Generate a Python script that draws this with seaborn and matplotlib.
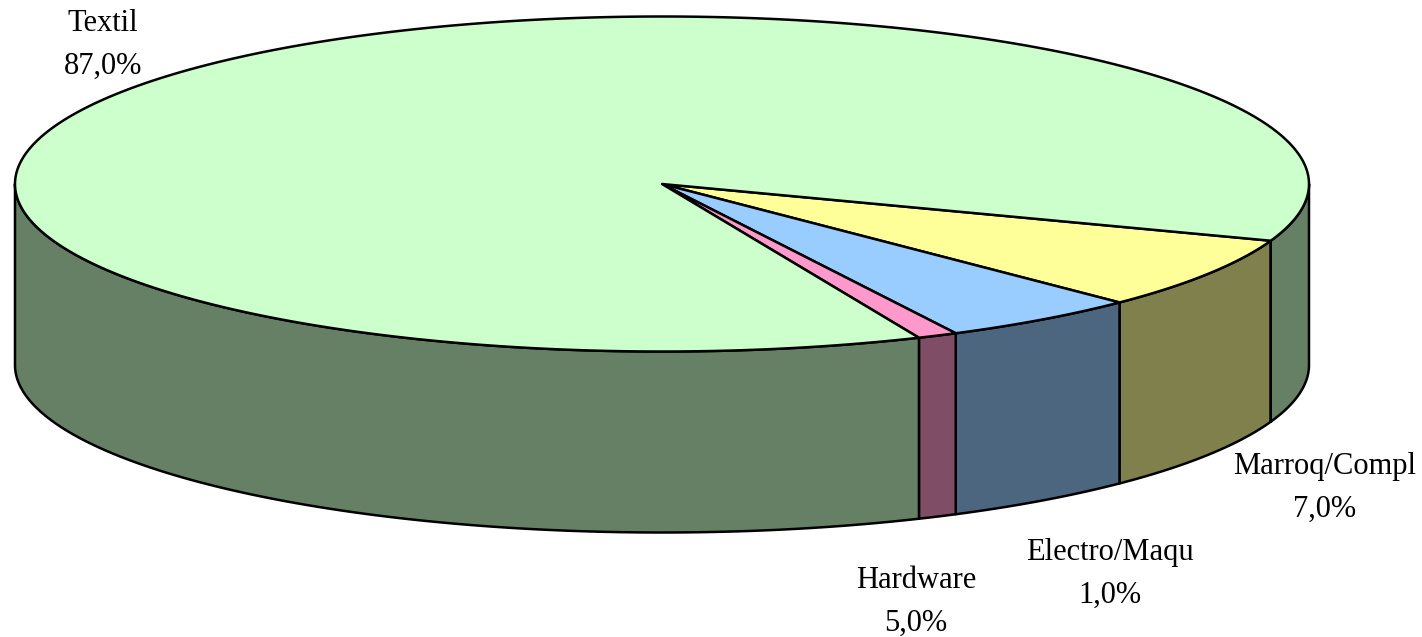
import numpy as np
import matplotlib
matplotlib.use("Agg")
import matplotlib.pyplot as plt
import seaborn as sns

# Data
slice_names = ["Marroq/Compl", "Hardware", "Electro/Maqu", "Textil"]
slice_values = [7.0, 5.0, 1.0, 87.0]          # drawn clockwise on screen
slice_colors = ["#FFFF99", "#99CCFF", "#FF99CC", "#CCFFCC"]
side_colors = ["#80804D", "#4D6680", "#804D66", "#668066"]
label_names = ["Textil", "Marroq/Compl", "Electro/Maqu", "Hardware"]
label_values = [87.0, 7.0, 1.0, 5.0]

# Layout (pixels)
W, H = 1422, 637
CX, CY, RX, RY, DEPTH = 662, 184, 647, 167.5, 181
START = 19.8  # parametric angle, measured clockwise on screen from +x
LABEL_POS = {"Textil": (103, 45), "Marroq/Compl": (1325, 488),
             "Electro/Maqu": (1110, 574), "Hardware": (916, 602)}

sns.set_theme(style="white", rc={"axes.facecolor": "white", "figure.facecolor": "white"})
plt.rcParams["font.family"] = ["Liberation Serif", "DejaVu Serif"]

fig = plt.figure(figsize=(W / 100, H / 100), dpi=100)
ax = fig.add_axes([0, 0, 1, 1])
ax.set_xlim(0, W)
ax.set_ylim(H, 0)
ax.axis("off")

LW = 1.8
def px(a):
    r = np.radians(a)
    return CX + RX * np.cos(r), CY + RY * np.sin(r)

edges = START + np.concatenate([[0], np.cumsum(slice_values)]) * 3.6

# Side walls: visible part of the rim only (0..180 deg on screen, below the centre)
for a0, a1, c in zip(edges[:-1], edges[1:], side_colors):
    for shift in (0, 360, -360):
        lo, hi = max(a0 + shift, 0), min(a1 + shift, 180)
        if hi <= lo:
            continue
        t = np.linspace(lo, hi, 200)
        x, y = px(t)
        ax.fill(np.r_[x, x[::-1]], np.r_[y, y[::-1] + DEPTH], facecolor=c,
                edgecolor="black", lw=LW, joinstyle="round", zorder=1)

# Top faces
for a0, a1, c in zip(edges[:-1], edges[1:], slice_colors):
    t = np.linspace(a0, a1, max(int(a1 - a0) * 4, 20))
    x, y = px(t)
    ax.fill(np.r_[CX, x], np.r_[CY, y], facecolor=c, edgecolor="black",
            lw=LW, joinstyle="round", zorder=2)

for name, v in zip(label_names, label_values):
    lx, ly = LABEL_POS[name]
    ax.text(lx, ly, f"{name}\n{v:.1f}%".replace(".", ","), ha="center", va="center",
            fontsize=22, color="black", linespacing=1.6, zorder=3)

fig.savefig("out.png", dpi=100)
